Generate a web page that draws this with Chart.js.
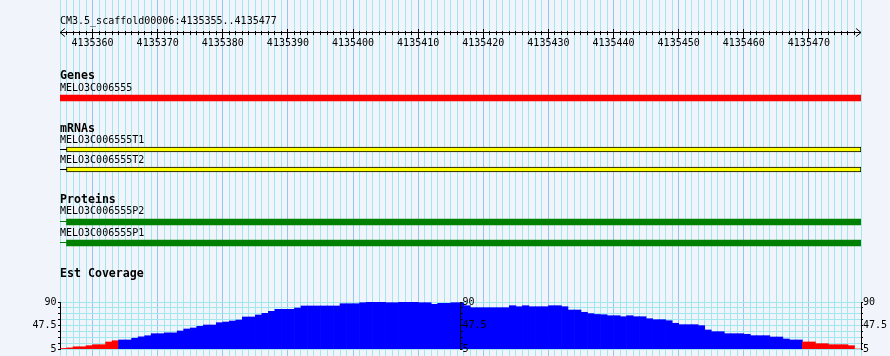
<!DOCTYPE html>
<html>
<head>
<meta charset="utf-8">
<script src="https://cdn.jsdelivr.net/npm/chart.js@4.4.1/dist/chart.umd.min.js"></script>
<style>
html,body{margin:0;padding:0;background:#f1f4fa;}
#c{display:block;background:#f1f4fa;}
</style>
</head>
<body>
<canvas id="c" width="890" height="356"></canvas>
<script>
// ---------------- data ----------------
const refName = 'CM3.5_scaffold00006';
const viewStart = 4135355;
const viewEnd = 4135477;
const rulerStep = 10;

const trackTitles = ['Genes', 'mRNAs', 'Proteins', 'Est Coverage'];

const geneNames = ['MELO3C006555'];
const geneSpans = [[4135300, 4135540]];

const mrnaNames = ['MELO3C006555T1', 'MELO3C006555T2'];
const mrnaSpans = [[4135340, 4135478], [4135340, 4135478]];
const mrnaExons = [[4135356, 4135478], [4135356, 4135478]];

const proteinNames = ['MELO3C006555P2', 'MELO3C006555P1'];
const proteinSpans = [[4135340, 4135478], [4135340, 4135478]];
const proteinCds = [[4135356, 4135478], [4135356, 4135478]];

// EST coverage, one value per base from viewStart
const coverage = [
  6, 7, 9, 9, 11, 12.8, 12.8, 17.7, 20, 21.3,
  21.3, 24.5, 27, 29, 32.7, 32.7, 34.2, 34.2, 37.6, 41.2,
  43, 46, 48.4, 48.4, 52.6, 53.8, 55.6, 57.4, 62.9, 62.9,
  66.5, 69.5, 73.1, 76.8, 76.8, 76.8, 79.1, 82.8, 82.8, 82.8,
  82.8, 82.8, 82.8, 86.9, 86.9, 86.9, 88.7, 91, 91, 90,
  88.7, 88.7, 90.5, 90.5, 90.5, 88.7, 88.7, 85.8, 87.6, 87.6,
  88.7, 88.7, 83.3, 79.7, 79.7, 79.7, 79.7, 79.7, 79.7, 83.3,
  81.5, 83.3, 81.5, 81.5, 81.5, 83.3, 83.3, 81.5, 75.5, 75.5,
  71.4, 69, 67.5, 67, 65.2, 65.2, 63.4, 65.2, 63.4, 63.4,
  59.8, 58, 58, 56.2, 51.5, 49, 49, 49, 47.2, 39.4,
  36.3, 36.3, 32.7, 32.7, 32.7, 31.6, 29.1, 29.1, 29.1, 26.7,
  26.7, 23.1, 21.3, 21.3, 17.7, 17.7, 14.6, 14.6, 12.8, 12.8,
  12.8, 11, 5
];
const coverageMin = 5;
const coverageMax = 90;
const coverageLabels = [5, 47.5, 90];
const coverageTickIntervals = 8;
const coveragePivot = 21;

// ---------------- layout & style ----------------
const H = 356;
const rows = {
  region: 21.5, ruler: 32.5, rulerMinorTop: 31, rulerMajorTop: 29, arrowHalf: 4,
  genesTitle: 76, geneLabel: [88.5], geneBar: [98],
  mrnaTitle: 128.5, mrnaLabel: [140, 160], mrnaBar: [149.5, 169.5],
  protTitle: 200, protLabel: [211.5, 233.5], protBar: [222, 243],
  covTitle: 274, covTop: 302, covBottom: 349
};
const arrowBp = 0.75;
const MONO = '"DejaVu Sans Mono", "Liberation Mono", monospace';
const FONT = '10px ' + MONO;
const FONT_BOLD = 'bold 11.6px ' + MONO;
const GRID_MINOR = '#a0e8ee';
const GRID_MAJOR = '#92c8ee';
const RED = '#ff0000', BLUE = '#0000ff', YELLOW = '#ffff00', GREEN = '#008000', BLACK = '#000000';

function range(a, b, step) { step = step || 1; const r = []; for (let v = a; v <= b; v += step) r.push(v); return r; }
const viewEdge = viewEnd + 1;
const noPad = s => { s.paddingLeft = 0; s.paddingRight = 0; s.paddingTop = 0; s.paddingBottom = 0; };
const covStep = (coverageMax - coverageMin) / coverageTickIntervals;
const covTicks = range(0, coverageTickIntervals).map(k => ({ value: coverageMin + k * covStep }));
const firstMajor = Math.ceil(viewStart / rulerStep) * rulerStep;

// ---------------- datasets ----------------
const lineDs = (data, color, order) => ({
  type: 'line', data, xAxisID: 'x', yAxisID: 'yp', borderColor: color, borderWidth: 1,
  pointRadius: 0, fill: false, tension: 0, order: order
});
const boxDs = (spans, ys, fill, border, bw, thick, order) => ({
  type: 'bar', indexAxis: 'y', xAxisID: 'xf', yAxisID: 'yp',
  data: spans.map((s, i) => ({ x: [Math.max(s[0], viewStart - 1), Math.min(s[1], viewEdge + 1)], y: ys[i] })),
  backgroundColor: fill, borderColor: border, borderWidth: bw, borderSkipped: false,
  barThickness: thick, grouped: false, order: order
});

const datasets = [];
// ruler
datasets.push(lineDs([{ x: viewStart, y: rows.ruler }, { x: viewEdge, y: rows.ruler }], BLACK, 1));
datasets.push(lineDs([
  { x: viewStart + arrowBp, y: rows.ruler - rows.arrowHalf }, { x: viewStart, y: rows.ruler },
  { x: viewStart + arrowBp, y: rows.ruler + rows.arrowHalf }], BLACK, 1));
datasets.push(lineDs([
  { x: viewEdge - arrowBp, y: rows.ruler - rows.arrowHalf }, { x: viewEdge, y: rows.ruler },
  { x: viewEdge - arrowBp, y: rows.ruler + rows.arrowHalf }], BLACK, 1));
// genes
datasets.push(boxDs(geneSpans, rows.geneBar, RED, RED, 0, 6, 1));
// mRNAs
mrnaSpans.forEach((s, i) => datasets.push(lineDs(
  [{ x: Math.max(s[0], viewStart), y: rows.mrnaBar[i] }, { x: Math.min(s[1], viewEdge), y: rows.mrnaBar[i] }], BLACK, 3)));
datasets.push(boxDs(mrnaExons, rows.mrnaBar, YELLOW, BLACK, 1, 5, 1));
// proteins
proteinSpans.forEach((s, i) => datasets.push(lineDs(
  [{ x: Math.max(s[0], viewStart), y: rows.protBar[i] - 0.5 }, { x: Math.min(s[1], viewEdge), y: rows.protBar[i] - 0.5 }], GREEN, 3)));
datasets.push(boxDs(proteinCds, rows.protBar, GREEN, GREEN, 0, 6, 1));
// coverage
datasets.push({
  type: 'bar', xAxisID: 'x', yAxisID: 'yc',
  data: coverage.map((v, i) => ({ x: viewStart + i + 0.5, y: v })),
  backgroundColor: c => (c.parsed && c.parsed.y < coveragePivot) ? RED : BLUE,
  borderWidth: 0, barPercentage: 1, categoryPercentage: 1, grouped: false, order: 2
});

// ---------------- plugins ----------------
const coverageBand = {
  id: 'coverageBand',
  afterLayout(chart) {
    const ca = chart.chartArea;
    const mid = (ca.left + ca.right) / 2;
    ['yc', 'ym', 'ycR'].forEach(id => {
      const s = chart.scales[id];
      s.top = rows.covTop; s.bottom = rows.covBottom; s.height = rows.covBottom - rows.covTop;
      if (id === 'ym') { s.left = mid; s.right = chart.width; s.width = s.right - s.left; }
      s.configure();
    });
  }
};
const trackText = {
  id: 'trackText',
  beforeDatasetsDraw(chart) {
    const ctx = chart.ctx;
    const xs = chart.scales.x;
    const left = chart.chartArea.left;
    const lx = s => Math.max(left, xs.getPixelForValue(s));
    ctx.save();
    ctx.fillStyle = BLACK; ctx.textAlign = 'left'; ctx.textBaseline = 'middle';
    ctx.font = FONT;
    ctx.fillText(refName + ':' + viewStart + '..' + viewEnd, left, rows.region);
    geneNames.forEach((n, i) => ctx.fillText(n, lx(geneSpans[i][0]), rows.geneLabel[i]));
    mrnaNames.forEach((n, i) => ctx.fillText(n, lx(mrnaSpans[i][0]), rows.mrnaLabel[i]));
    proteinNames.forEach((n, i) => ctx.fillText(n, lx(proteinSpans[i][0]), rows.protLabel[i]));
    ctx.font = FONT_BOLD;
    [rows.genesTitle, rows.mrnaTitle, rows.protTitle, rows.covTitle].forEach((y, i) => ctx.fillText(trackTitles[i], left, y));
    ctx.restore();
  }
};

const covAxis = (pos, width, padding, onArea, z) => ({
  type: 'linear', position: pos, min: coverageMin, max: coverageMax, offset: false,
  afterBuildTicks: s => { s.ticks = covTicks.map(t => ({ value: t.value })); },
  afterFit: s => { s.width = width; noPad(s); },
  ticks: {
    z: z, autoSkip: false, padding: padding, color: BLACK, font: { family: MONO, size: 10 },
    callback: v => coverageLabels.includes(v) ? String(v) : ''
  },
  grid: { z: onArea ? -1 : z, display: true, drawOnChartArea: onArea, color: GRID_MINOR, drawTicks: true, tickLength: 2, tickColor: BLACK, tickWidth: 1 },
  border: { z: z, display: true, color: BLACK, width: 1 }
});

new Chart(document.getElementById('c'), {
  type: 'bar',
  data: { datasets },
  options: {
    responsive: false, animation: false, events: [],
    layout: { padding: 0 },
    plugins: { legend: { display: false }, tooltip: { enabled: false }, title: { display: false } },
    scales: {
      x: {
        type: 'linear', position: 'bottom', min: viewStart, max: viewEdge, offset: false,
        afterBuildTicks: s => { s.ticks = range(viewStart, viewEdge).map(v => ({ value: v })); },
        afterFit: s => { s.height = 0; noPad(s); },
        ticks: { display: false }, border: { display: false },
        grid: { offset: false, drawTicks: false, lineWidth: 1, color: c => (c.tick && c.tick.value % rulerStep === 0) ? GRID_MAJOR : GRID_MINOR }
      },
      xf: { type: 'linear', position: 'bottom', min: viewStart, max: viewEdge, offset: false, display: false },
      xr: {
        type: 'linear', position: { yp: rows.rulerMinorTop }, min: viewStart, max: viewEdge, offset: false,
        afterBuildTicks: s => { s.ticks = range(viewStart + 1, viewEnd).filter(v => v % rulerStep !== 0).map(v => ({ value: v })); },
        afterFit: noPad,
        ticks: { display: false }, border: { display: false },
        grid: { display: true, offset: false, drawOnChartArea: false, drawTicks: true, tickLength: 4, tickColor: BLACK, tickWidth: 1 }
      },
      xr2: {
        type: 'linear', position: { yp: rows.rulerMajorTop }, min: viewStart, max: viewEdge, offset: false,
        afterBuildTicks: s => { s.ticks = range(firstMajor, viewEnd, rulerStep).map(v => ({ value: v })); },
        afterFit: noPad,
        ticks: { display: true, autoSkip: false, maxRotation: 0, minRotation: 0, padding: -0.7, color: BLACK,
                 font: { family: MONO, size: 10 }, callback: v => String(v) },
        border: { display: false },
        grid: { display: true, offset: false, drawOnChartArea: false, drawTicks: true, tickLength: 9, tickColor: BLACK, tickWidth: 1 }
      },
      yp: { type: 'linear', position: 'left', min: 0, max: H, reverse: true, offset: false, display: false },
      yc: covAxis('left', 60, 1.5, true, 0),
      ym: covAxis('right', 0, 0, false, 1),
      ycR: covAxis('right', 29, 0, false, 0)
    }
  },
  plugins: [coverageBand, trackText]
});
</script>
</body>
</html>
